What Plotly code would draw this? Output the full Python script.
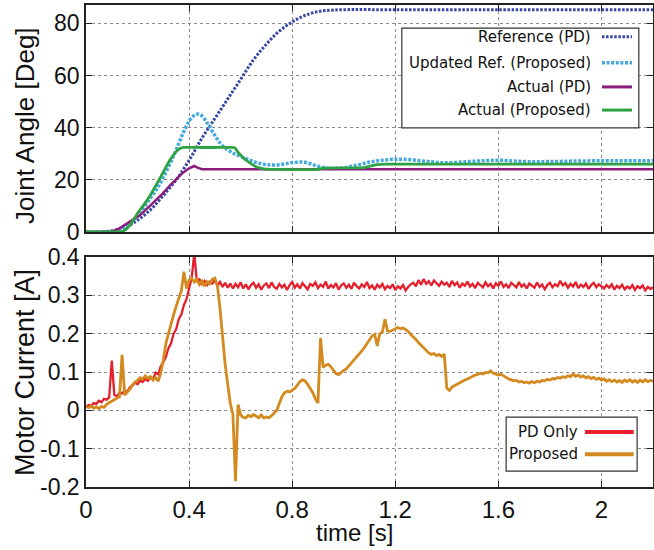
import plotly.graph_objects as go

# ---------------- data: joint angle (top panel) ----------------
t_ref = [0, 0.05, 0.1, 0.15, 0.2, 0.25, 0.3, 0.35, 0.4, 0.45, 0.5, 0.55, 0.6, 0.65,
         0.7, 0.75, 0.8, 0.85, 0.9, 0.95, 1.0, 1.2, 1.4, 1.6, 1.8, 2.0, 2.2]
ref_pd = [0, 0, 0.5, 1.8, 4.5, 8.5, 14, 20, 27.5, 36, 43.5, 51, 58.5, 66,
          72, 77, 80.5, 83, 84.5, 85, 85.2, 85.2, 85.2, 85.2, 85.2, 85.2, 85.2]

t_upd = [0, 0.05, 0.1, 0.125, 0.15, 0.175, 0.2, 0.225, 0.25, 0.275, 0.3, 0.325, 0.35,
         0.375, 0.4, 0.42, 0.435, 0.45, 0.47, 0.5, 0.525, 0.55, 0.575, 0.6, 0.65, 0.7,
         0.75, 0.8, 0.85, 0.9, 0.95, 1.0, 1.05, 1.1, 1.15, 1.2, 1.25, 1.3, 1.35, 1.4,
         1.5, 1.6, 1.7, 1.8, 1.9, 2.0, 2.1, 2.2]
upd_ref = [0, 0, 0.2, 0.8, 1.8, 3.6, 6.5, 9.5, 13, 16.5, 21, 26, 31.5,
           37.5, 42.5, 44.7, 45.2, 44.5, 41.8, 37, 33.5, 31.5, 30, 29, 27, 25.8,
           25.8, 26.6, 26.7, 25.2, 24.4, 24.6, 25.6, 26.8, 27.5, 27.9, 27.8, 27.3, 26.8, 26.5,
           27.1, 27.5, 27.0, 27.0, 27.2, 27.3, 27.3, 27.3]

t_act_pd = [0, 0.1, 0.13, 0.17, 0.21, 0.25, 0.29, 0.33, 0.37, 0.4, 0.42, 0.435, 0.45, 1.0, 1.6, 2.2]
act_pd = [0, 0, 1.4, 3.9, 6.5, 10.2, 14, 18.3, 22.2, 24.4, 25.3, 24.6, 24.1, 24.1, 24.1, 24.1]

t_act_prop = [0, 0.1, 0.14, 0.16, 0.18, 0.2, 0.225, 0.25, 0.275, 0.3, 0.325, 0.35, 0.365,
              0.38, 0.45, 0.5, 0.57, 0.58, 0.59, 0.6, 0.62, 0.64, 0.66, 0.68, 0.7, 0.75,
              0.9, 0.92, 1.0, 1.08, 1.1, 1.13, 1.16, 1.4, 1.8, 2.2]
act_prop = [0, 0, 0.2, 1.5, 4, 7.2, 10.5, 14.2, 18.5, 23, 27.5, 30.8, 32,
            32.4, 32.4, 32.4, 32.4, 32, 30.5, 29.5, 27.6, 26.2, 25, 24.4, 24.1, 24,
            24, 24.5, 24.6, 24.7, 25.2, 25.8, 26, 26, 26, 26]

# ---------------- data: motor current (bottom panel), 0.01 s samples ----------------
t_cur = [round(i * 0.01, 2) for i in range(221)]
cur_pd = [
    0.010, 0.014, 0.012, 0.019, 0.017, 0.025, 0.021, 0.030, 0.028, 0.034,
    0.130, 0.040, 0.037, 0.046, 0.044, 0.052, 0.049, 0.060, 0.064, 0.072,
    0.068, 0.078, 0.074, 0.082, 0.077, 0.086, 0.081, 0.098, 0.094, 0.115,
    0.126, 0.140, 0.162, 0.175, 0.200, 0.212, 0.238, 0.250, 0.275, 0.290,
    0.318, 0.345, 0.410, 0.338, 0.342, 0.330, 0.338, 0.327, 0.336, 0.331,
    0.340, 0.326, 0.335, 0.322, 0.333, 0.320, 0.331, 0.318, 0.330, 0.321,
    0.334, 0.318, 0.329, 0.316, 0.327, 0.333, 0.320, 0.329, 0.315, 0.326,
    0.331, 0.319, 0.334, 0.322, 0.317, 0.330, 0.321, 0.328, 0.314, 0.327,
    0.335, 0.320, 0.329, 0.318, 0.332, 0.323, 0.316, 0.330, 0.325, 0.334,
    0.319, 0.328, 0.322, 0.336, 0.318, 0.327, 0.321, 0.332, 0.315, 0.326,
    0.331, 0.320, 0.328, 0.317, 0.333, 0.324, 0.318, 0.329, 0.322, 0.335,
    0.319, 0.326, 0.315, 0.328, 0.321, 0.330, 0.316, 0.325, 0.319, 0.329,
    0.314, 0.324, 0.318, 0.327, 0.313, 0.322, 0.329, 0.333, 0.324, 0.340,
    0.328, 0.343, 0.330, 0.337, 0.326, 0.339, 0.331, 0.325, 0.336, 0.328,
    0.333, 0.322, 0.338, 0.327, 0.334, 0.320, 0.331, 0.325, 0.336, 0.323,
    0.330, 0.319, 0.333, 0.326, 0.321, 0.334, 0.324, 0.330, 0.318, 0.332,
    0.325, 0.336, 0.322, 0.329, 0.319, 0.333, 0.326, 0.321, 0.335, 0.323,
    0.329, 0.318, 0.331, 0.325, 0.320, 0.334, 0.322, 0.328, 0.316, 0.327,
    0.333, 0.321, 0.329, 0.324, 0.338, 0.326, 0.332, 0.320, 0.330, 0.323,
    0.335, 0.319, 0.328, 0.322, 0.331, 0.317, 0.327, 0.333, 0.321, 0.329,
    0.324, 0.318, 0.327, 0.320, 0.329, 0.315, 0.325, 0.319, 0.328, 0.316,
    0.323, 0.318, 0.327, 0.314, 0.324, 0.319, 0.326, 0.313, 0.322, 0.317,
    0.321]
cur_prop = [
    0.010, 0.007, 0.011, 0.006, 0.009, 0.005, 0.010, 0.008, 0.016, 0.020,
    0.024, 0.030, 0.033, 0.036, 0.145, 0.040, 0.048, 0.055, 0.066, 0.074,
    0.078, 0.085, 0.082, 0.090, 0.084, 0.088, 0.079, 0.086, 0.076, 0.098,
    0.132, 0.175, 0.200, 0.228, 0.250, 0.272, 0.290, 0.312, 0.362, 0.318,
    0.340, 0.345, 0.335, 0.342, 0.328, 0.337, 0.324, 0.336, 0.330, 0.342,
    0.345, 0.325, 0.265, 0.180, 0.120, 0.068, 0.018, -0.010, -0.185, 0.015,
    -0.012, -0.018, -0.020, -0.013, -0.017, -0.011, -0.014, -0.019, -0.012, -0.020,
    -0.017, -0.019, -0.014, -0.006, 0.000, 0.018, 0.035, 0.046, 0.050, 0.048,
    0.052, 0.057, 0.066, 0.075, 0.080, 0.077, 0.068, 0.058, 0.046, 0.030,
    0.019, 0.189, 0.112, 0.118, 0.120, 0.114, 0.104, 0.096, 0.093, 0.099,
    0.104, 0.108, 0.116, 0.122, 0.130, 0.137, 0.145, 0.155, 0.164, 0.174,
    0.181, 0.194, 0.198, 0.168, 0.200, 0.204, 0.238, 0.207, 0.206, 0.210,
    0.214, 0.216, 0.213, 0.215, 0.211, 0.206, 0.198, 0.192, 0.185, 0.177,
    0.170, 0.165, 0.156, 0.150, 0.146, 0.148, 0.143, 0.146, 0.141, 0.147,
    0.058, 0.052, 0.061, 0.065, 0.068, 0.072, 0.075, 0.079, 0.082, 0.086,
    0.088, 0.092, 0.094, 0.097, 0.095, 0.099, 0.098, 0.103, 0.097, 0.095,
    0.092, 0.094, 0.089, 0.086, 0.082, 0.080, 0.077, 0.078, 0.074, 0.076,
    0.072, 0.074, 0.071, 0.075, 0.072, 0.076, 0.074, 0.078, 0.077, 0.081,
    0.079, 0.083, 0.082, 0.086, 0.084, 0.088, 0.086, 0.090, 0.088, 0.095,
    0.089, 0.092, 0.087, 0.090, 0.085, 0.088, 0.083, 0.086, 0.081, 0.084,
    0.079, 0.082, 0.076, 0.080, 0.075, 0.079, 0.074, 0.078, 0.073, 0.079,
    0.075, 0.080, 0.074, 0.078, 0.073, 0.079, 0.074, 0.080, 0.075, 0.078,
    0.076]

# ---------------- tick labels ----------------
x_ticks = [0, 0.4, 0.8, 1.2, 1.6, 2.0]
x_labels = ["0", "0.4", "0.8", "1.2", "1.6", "2"]
y1_ticks = [0, 20, 40, 60, 80]
y1_labels = ["0", "20", "40", "60", "80"]
y2_ticks = [-0.2, -0.1, 0, 0.1, 0.2, 0.3, 0.4]
y2_labels = ["-0.2", "-0.1", "0", "0.1", "0.2", "0.3", "0.4"]

names_top = ["Reference (PD)", "Updated Ref. (Proposed)", "Actual (PD)", "Actual (Proposed)"]
names_bot = ["PD Only", "Proposed"]

C_REF = "#3646a6"
C_UPD = "#46a9de"
C_APD = "#8b1d7d"
C_APR = "#2fa243"
C_RED = "#e51f2c"
C_ORG = "#d38a1f"

fig = go.Figure()
fig.add_trace(go.Scatter(x=t_ref, y=ref_pd, mode="lines", name=names_top[0], showlegend=False,
                         line=dict(color=C_REF, width=3, dash="2.5px,1.6px", shape="spline"),
                         xaxis="x", yaxis="y"))
fig.add_trace(go.Scatter(x=t_upd, y=upd_ref, mode="lines", name=names_top[1], showlegend=False,
                         line=dict(color=C_UPD, width=3.5, dash="3px,1.6px", shape="spline"),
                         xaxis="x", yaxis="y"))
fig.add_trace(go.Scatter(x=t_act_pd, y=act_pd, mode="lines", name=names_top[2], showlegend=False,
                         line=dict(color=C_APD, width=2.5), xaxis="x", yaxis="y"))
fig.add_trace(go.Scatter(x=t_act_prop, y=act_prop, mode="lines", name=names_top[3], showlegend=False,
                         line=dict(color=C_APR, width=2.8, shape="spline", smoothing=0.4),
                         xaxis="x", yaxis="y"))
fig.add_trace(go.Scatter(x=t_cur, y=cur_pd, mode="lines", name=names_bot[0], showlegend=False,
                         line=dict(color=C_RED, width=2.3), xaxis="x2", yaxis="y2"))
fig.add_trace(go.Scatter(x=t_cur, y=cur_prop, mode="lines", name=names_bot[1], showlegend=False,
                         line=dict(color=C_ORG, width=2.8), xaxis="x2", yaxis="y2"))

TICKF = "Liberation Sans"
axis_common = dict(showline=True, linecolor="#222", linewidth=1.5, mirror="ticks",
                   ticks="inside", ticklen=6, tickcolor="#222", tickwidth=1,
                   showgrid=True, gridcolor="#8a8a8a", griddash="dot", gridwidth=1,
                   zeroline=False, automargin=False)

fig.update_layout(
    width=654, height=550,
    margin=dict(l=86, r=1, t=5, b=63, autoexpand=False),
    paper_bgcolor="white", plot_bgcolor="white",
    xaxis=dict(domain=[0, 1], range=[0, 2.2], anchor="y", tickvals=x_ticks,
               ticktext=x_labels, showticklabels=False, **axis_common),
    yaxis=dict(domain=[0.529, 1.0], range=[0, 87], anchor="x", tickvals=y1_ticks,
               ticktext=y1_labels, tickfont=dict(family=TICKF, size=23, color="#111"),
               **axis_common),
    xaxis2=dict(domain=[0, 1], range=[0, 2.2], anchor="y2", matches="x", tickvals=x_ticks,
                ticktext=x_labels, tickfont=dict(family=TICKF, size=24, color="#111"),
                **axis_common),
    yaxis2=dict(domain=[0.0, 0.477], range=[-0.2, 0.4], anchor="x2", tickvals=y2_ticks,
                ticktext=y2_labels, tickfont=dict(family=TICKF, size=23, color="#111"),
                **axis_common),
    showlegend=False,
)

# axis titles
fig.add_annotation(text="Joint Angle [Deg]", xref="paper", yref="paper", x=-0.1076, y=0.751,
                   xanchor="center", yanchor="middle",
                   textangle=-90, showarrow=False, font=dict(family=TICKF, size=26, color="#111"))
fig.add_annotation(text="Motor Current [A]", xref="paper", yref="paper", x=-0.1076, y=0.2386,
                   xanchor="center", yanchor="middle",
                   textangle=-90, showarrow=False, font=dict(family=TICKF, size=27, color="#111"))
fig.add_annotation(text="time [s]", xref="paper", yref="paper", x=0.4727, y=-0.0954,
                   xanchor="center", yanchor="middle",
                   showarrow=False, font=dict(family=TICKF, size=24, color="#111"))

# custom legends (text right-aligned, sample on the right, gnuplot style)
LEGF = dict(family="DejaVu Sans", size=15, color="#111")
fig.add_shape(type="rect", xref="paper", yref="paper", x0=0.557, x1=0.975, y0=0.745, y1=0.952,
              line=dict(color="#333", width=1.2), fillcolor="white", layer="above")
top_rows = [0.934, 0.880, 0.830, 0.782]
top_styles = [(C_REF, 3, "2.5px,1.6px"), (C_UPD, 3.5, "3px,1.6px"), (C_APD, 3, "solid"), (C_APR, 3, "solid")]
for nm, yy, (col, w, d) in zip(names_top, top_rows, top_styles):
    fig.add_annotation(text=nm, xref="paper", yref="paper", x=0.894, y=yy, xanchor="right",
                       yanchor="middle", showarrow=False, font=LEGF)
    fig.add_shape(type="line", xref="paper", yref="paper", x0=0.910, x1=0.963, y0=yy, y1=yy,
                  line=dict(color=col, width=w, dash=d), layer="above")

fig.add_shape(type="rect", xref="paper", yref="paper", x0=0.741, x1=0.972, y0=0.033, y1=0.145,
              line=dict(color="#333", width=1.2), fillcolor="white", layer="above")
bot_rows = [0.114, 0.068]
for nm, yy, col in zip(names_bot, bot_rows, [C_RED, C_ORG]):
    fig.add_annotation(text=nm, xref="paper", yref="paper", x=0.871, y=yy, xanchor="right",
                       yanchor="middle", showarrow=False, font=LEGF)
    fig.add_shape(type="line", xref="paper", yref="paper", x0=0.880, x1=0.966, y0=yy, y1=yy,
                  line=dict(color=col, width=4), layer="above")

fig.write_html("out.html")
